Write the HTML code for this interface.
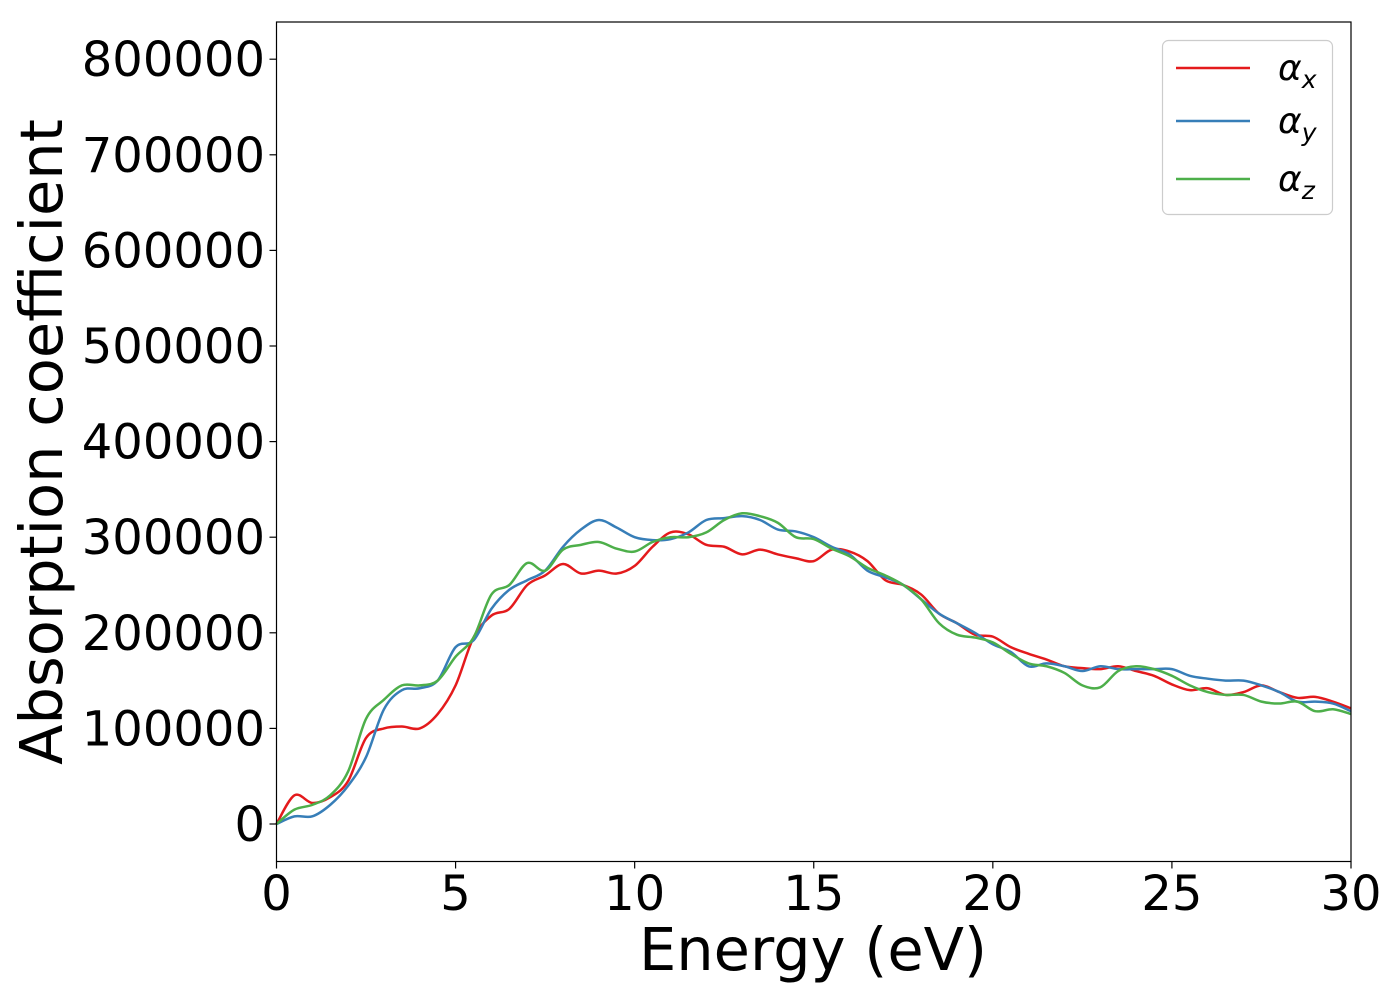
<!DOCTYPE html>
<html><head><meta charset="utf-8"><style>
html,body{margin:0;padding:0;background:#fff;}
svg{display:block;font-family:"DejaVu Sans","Liberation Sans",sans-serif;}
</style></head><body>
<svg id="chart" width="1400" height="1000">
<g id="plot"></g>
</svg>
<script>
const energy = [0,0.5,1,1.5,2,2.5,3,3.5,4,4.5,5,5.5,6,6.5,7,7.5,8,8.5,9,9.5,10,10.5,11,11.5,12,12.5,13,13.5,14,14.5,15,15.5,16,16.5,17,17.5,18,18.5,19,19.5,20,20.5,21,21.5,22,22.5,23,23.5,24,24.5,25,25.5,26,26.5,27,27.5,28,28.5,29,29.5,30];
const alphaX = [0,30,22,28,45,90,100,102,100,115,145,195,218,225,250,260,272,262,265,262,270,290,305,303,292,290,282,287,282,278,275,287,285,275,255,250,240,220,210,198,196,185,178,172,165,163,162,165,160,155,146,140,142,135,138,145,138,132,133,128,121];
const alphaY = [0,8,8,20,40,70,120,140,142,150,185,192,225,245,255,265,290,308,318,310,300,297,298,305,318,320,322,318,308,306,300,290,282,265,258,250,235,220,210,200,188,180,165,168,165,160,165,162,162,162,162,155,152,150,150,145,138,128,128,126,118];
const alphaZ = [0,15,20,30,55,110,130,145,145,150,175,195,240,250,273,265,287,292,295,288,285,295,300,300,305,318,325,322,315,300,298,288,280,268,260,250,235,210,198,195,190,178,168,165,158,145,143,160,165,162,155,145,138,135,135,128,126,128,118,120,115];
const xTicks = [0,5,10,15,20,25,30];
const yTicks = [0,100000,200000,300000,400000,500000,600000,700000,800000];
const seriesNames = ["x","y","z"];
const colors = ["#e41a1c","#377eb8","#4daf4a"];

const L=276.5,R=1351,T=22,B=861.5;
const sx = v => L + v/30*(R-L);
const sy = v => 824 - v/100000*95.6;
const NS="http://www.w3.org/2000/svg";
const g=document.getElementById('plot');
function el(t,a,p){const e=document.createElementNS(NS,t);for(const k in a)e.setAttribute(k,a[k]);(p||g).appendChild(e);return e;}

[alphaX,alphaY,alphaZ].forEach((s,i)=>{
  const pts=energy.map((e,j)=>[sx(e),sy(s[j]*1000)]);
  let d=`M${pts[0][0]},${pts[0][1]}`;
  for(let j=0;j<pts.length-1;j++){
    const p0=pts[Math.max(j-1,0)],p1=pts[j],p2=pts[j+1],p3=pts[Math.min(j+2,pts.length-1)];
    d+=` C${p1[0]+(p2[0]-p0[0])/6},${p1[1]+(p2[1]-p0[1])/6} ${p2[0]-(p3[0]-p1[0])/6},${p2[1]-(p3[1]-p1[1])/6} ${p2[0]},${p2[1]}`;
  }
  const p=el('path',{d:d,fill:'none',stroke:colors[i],'stroke-width':2.5});
  
  
});

const frame=el('rect',{x:L,y:T,width:R-L,height:B-T,fill:'none',stroke:'#000','stroke-width':1.2});



xTicks.forEach(v=>{
  el('line',{x1:sx(v),x2:sx(v),y1:B,y2:B+7,stroke:'#000','stroke-width':1.2});
  const t=el('text',{x:sx(v),y:910,'font-size':48,'text-anchor':'middle'});
  t.textContent=v;
  
  
});
yTicks.forEach(v=>{
  el('line',{x1:L-7,x2:L,y1:sy(v),y2:sy(v),stroke:'#000','stroke-width':1.2});
  const t=el('text',{x:265,y:sy(v)+17,'font-size':48,'text-anchor':'end'});
  t.textContent=v;
  
  
});
const xt=el('text',{x:813,y:970,'font-size':59,'text-anchor':'middle'});
xt.textContent='Energy (eV)';


const yt=el('text',{x:0,y:0,'font-size':59,'text-anchor':'middle',transform:'translate(62,442) rotate(-90)'});
yt.textContent='Absorption coefficient';



const lg=el('g',{});


el('rect',{x:1162.5,y:40.5,width:170,height:174,rx:6,fill:'#fff','fill-opacity':0.8,stroke:'#ccc','stroke-width':1.2},lg);
[68,121,179].forEach((y,i)=>{
  el('line',{x1:1176,x2:1250,y1:y,y2:y,stroke:colors[i],'stroke-width':2.5},lg);
  const t=el('text',{x:1278,y:y+12,'font-size':36,'font-style':'italic'},lg);
  t.innerHTML='α<tspan font-size="25" dy="8">'+seriesNames[i]+'</tspan>';
  
  
});
</script>
</body></html>
